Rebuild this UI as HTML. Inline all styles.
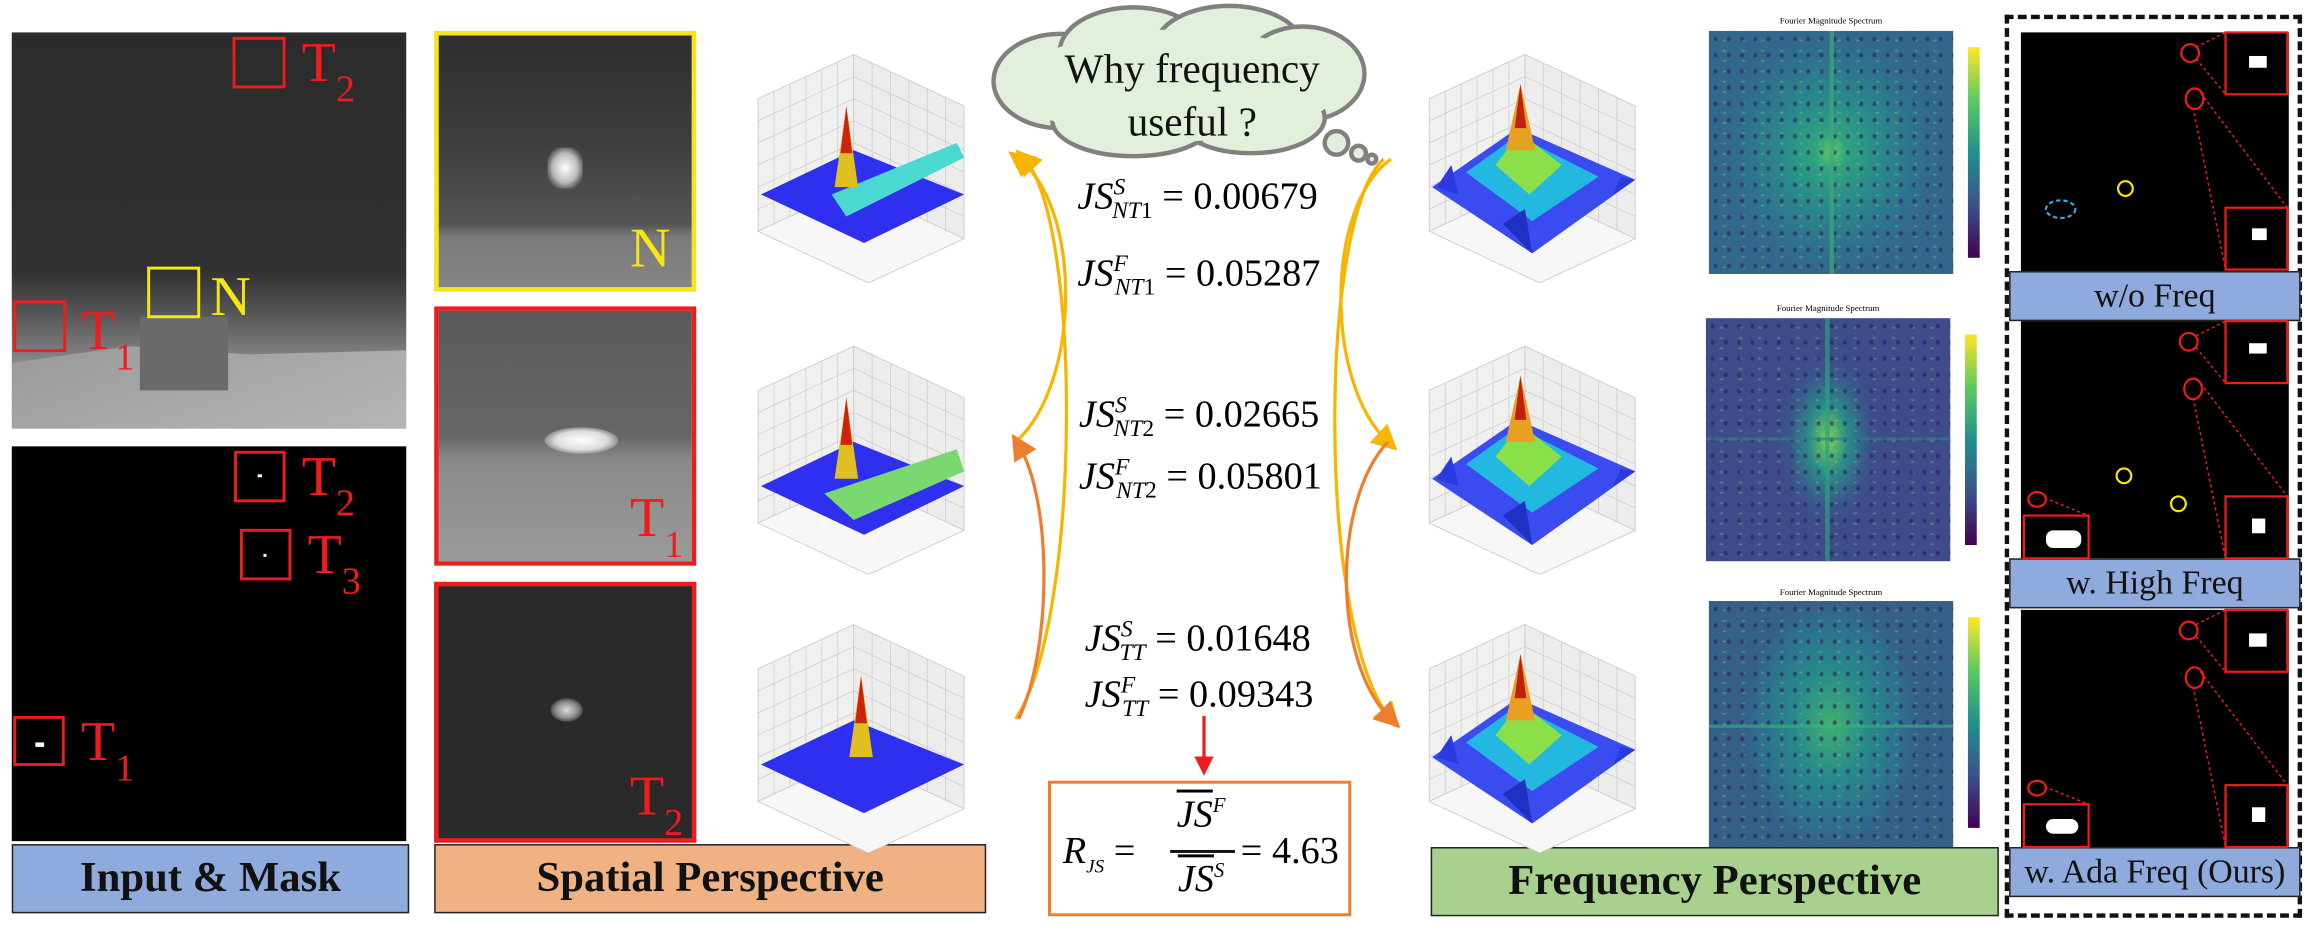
<!DOCTYPE html>
<html><head><meta charset="utf-8">
<style>
html,body{margin:0;padding:0;background:#fff;}
body{width:2308px;height:931px;overflow:hidden;position:relative;}
#stage{position:absolute;left:0;top:0;width:1568px;height:632px;transform:scale(1.4719,1.4731);transform-origin:0 0;font-family:"Liberation Serif",serif;}
.abs{position:absolute;}
.lbl{position:absolute;box-sizing:border-box;border:1.5px solid #222;display:flex;align-items:center;justify-content:center;font-weight:bold;font-size:29px;color:#111;font-family:"Liberation Serif",serif;}
.box{position:absolute;box-sizing:border-box;border:2.5px solid #ee1c1c;}
.rt{position:absolute;color:#ee1c1c;font-size:38px;line-height:1;font-family:"Liberation Serif",serif;}
.rt sub{font-size:26px;vertical-align:-14px;}
.eq{position:absolute;font-size:26px;line-height:1;white-space:nowrap;font-family:"Liberation Serif",serif;}
.eq i{font-style:italic;}
.spec{position:absolute;background:radial-gradient(ellipse 45% 50% at 50% 50%,#5ac864 0%,#2fa37f 15%,#2a8a8b 45%,#2f708e 80%,#33688d 100%);}
.cbar{position:absolute;width:8px;background:linear-gradient(#fde725,#5ec962,#21918c,#3b528b,#440154);}
.ftitle{position:absolute;font-size:6px;width:170px;text-align:center;font-family:"Liberation Serif",serif;}
.mask{position:absolute;background:#000;}
.mlbl{position:absolute;box-sizing:border-box;background:#8faadc;border:1.5px solid #222;font-size:23px;display:flex;align-items:center;justify-content:center;color:#111;font-family:"Liberation Serif",serif;}
.noise{position:absolute;background-image:radial-gradient(rgba(40,20,90,.55) 1px,transparent 1.6px),radial-gradient(rgba(120,210,120,.35) 1px,transparent 1.6px);background-size:9px 11px,13px 7px;background-position:0 0,4px 3px;}
</style></head><body>
<div id="stage">

<div class="abs" style="left:8px;top:22px;width:268px;height:269px;background:linear-gradient(180deg,#2b2b2b 0%,#303030 60%,#5a5a5a 72%,#8f8f8f 85%,#a8a8a8 100%);"></div>
<div class="abs" style="left:8px;top:235px;width:268px;height:56px;background:linear-gradient(160deg,#9a9a9a,#b5b5b5);clip-path:polygon(0 20%,30% 0,60% 10%,100% 5%,100% 100%,0 100%);"></div>
<div class="abs" style="left:95px;top:215px;width:60px;height:50px;background:#6a6a6a;"></div>
<div class="box" style="left:158px;top:25px;width:36px;height:35px;"></div>
<div class="rt" style="left:205px;top:24px;">T<sub>2</sub></div>
<div class="box" style="left:100px;top:181px;width:36px;height:35px;border-color:#f5e614;"></div>
<div class="rt" style="left:143px;top:183px;color:#f5e614;">N</div>
<div class="box" style="left:9px;top:204px;width:36px;height:35px;"></div>
<div class="rt" style="left:55px;top:206px;">T<sub>1</sub></div>

<div class="abs" style="left:8px;top:303px;width:268px;height:268px;background:#000;"></div>
<div class="box" style="left:159px;top:306px;width:35px;height:35px;"></div>
<div class="rt" style="left:205px;top:305px;">T<sub>2</sub></div>
<div class="box" style="left:163px;top:359px;width:35px;height:35px;"></div>
<div class="rt" style="left:209px;top:358px;">T<sub>3</sub></div>
<div class="box" style="left:9px;top:486px;width:35px;height:34px;"></div>
<div class="rt" style="left:55px;top:485px;">T<sub>1</sub></div>
<div class="abs" style="left:175px;top:322px;width:3px;height:2px;background:#fff"></div>
<div class="abs" style="left:179px;top:376px;width:2px;height:2px;background:#fff"></div>
<div class="abs" style="left:24px;top:504px;width:6px;height:3px;background:#fff"></div>
<div class="lbl" style="left:8px;top:573px;width:270px;height:47px;background:#8faadc;">Input &amp; Mask</div>

<div class="abs" style="left:295px;top:21px;width:178px;height:177px;box-sizing:border-box;border:3px solid #f5e614;background:linear-gradient(180deg,#2e2e2e 0%,#3c3c3c 40%,#555 75%,#7a7a7a 80%,#858585 100%);"></div>
<div class="abs" style="left:372px;top:100px;width:24px;height:28px;background:radial-gradient(#fff,#bbb 50%,transparent 80%)"></div>
<div class="rt" style="left:428px;top:150px;color:#f5e614;font-size:38px;">N</div>
<div class="abs" style="left:295px;top:208px;width:178px;height:176px;box-sizing:border-box;border:3px solid #ee1c1c;background:linear-gradient(180deg,#5a5a5a 0%,#666 50%,#8a8a8a 60%,#9a9a9a 100%);"></div>
<div class="abs" style="left:370px;top:290px;width:50px;height:18px;border-radius:50%;background:radial-gradient(#fff,#ddd 50%,transparent 80%)"></div>
<div class="rt" style="left:428px;top:333px;">T<sub>1</sub></div>
<div class="abs" style="left:295px;top:395px;width:178px;height:177px;box-sizing:border-box;border:3px solid #ee1c1c;background:#2a2a2a;"></div>
<div class="abs" style="left:374px;top:474px;width:22px;height:16px;border-radius:50%;background:radial-gradient(#ddd,#888 50%,transparent 80%)"></div>
<div class="rt" style="left:428px;top:522px;">T<sub>2</sub></div>
<div class="lbl" style="left:295px;top:573px;width:375px;height:47px;background:#f0b183;">Spatial Perspective</div>

<svg class="abs" style="left:660px;top:0px" width="290" height="115" viewBox="0 0 290 115">
<g fill="#e2efda" stroke="#808080" stroke-width="3">
<ellipse cx="60" cy="55" rx="45" ry="32"/><ellipse cx="110" cy="35" rx="50" ry="30"/><ellipse cx="175" cy="32" rx="50" ry="28"/><ellipse cx="225" cy="50" rx="42" ry="32"/><ellipse cx="190" cy="80" rx="50" ry="24"/><ellipse cx="110" cy="82" rx="55" ry="24"/>
</g>
<g fill="#e2efda"><ellipse cx="140" cy="58" rx="110" ry="38"/></g>
<g fill="#e2efda" stroke="#808080" stroke-width="3"><circle cx="248" cy="97" r="8"/><circle cx="263" cy="104" r="5"/><circle cx="272" cy="108" r="3"/></g>
<text x="150" y="56" text-anchor="middle" font-size="28" font-family="Liberation Serif" fill="#111">Why frequency</text>
<text x="150" y="92" text-anchor="middle" font-size="28" font-family="Liberation Serif" fill="#111">useful ?</text>
</svg>

<svg class="abs" style="left:0;top:0" width="1568" height="632">
<defs>
<marker id="ay" markerWidth="8" markerHeight="8" refX="4" refY="4" orient="auto"><path d="M0,0 L8,4 L0,8 Z" fill="#f7b500"/></marker>
<marker id="ao" markerWidth="8" markerHeight="8" refX="4" refY="4" orient="auto"><path d="M0,0 L8,4 L0,8 Z" fill="#ed7d31"/></marker>
<marker id="ar" markerWidth="6" markerHeight="6" refX="3" refY="3" orient="auto"><path d="M0,0 L6,3 L0,6 Z" fill="#ee1c1c"/></marker>
</defs>
<g fill="none" stroke-width="2.2">
<path d="M690,300 C735,260 735,140 692,108" stroke="#f7b500" marker-end="url(#ay)"/>
<path d="M690,488 C735,420 735,150 696,108" stroke="#f7b500" marker-end="url(#ay)"/>
<path d="M692,488 C715,440 715,340 692,302" stroke="#ed7d31" marker-end="url(#ao)"/>
<path d="M945,108 C900,140 900,260 943,300" stroke="#f7b500" marker-end="url(#ay)"/>
<path d="M940,108 C895,150 895,430 945,488" stroke="#f7b500" marker-end="url(#ay)"/>
<path d="M943,300 C905,340 905,450 945,488" stroke="#ed7d31" marker-end="url(#ao)"/>
<path d="M818,486 L818,520" stroke="#ee1c1c" marker-end="url(#ar)"/>
</g>
</svg>

<div class="eq" style="left:732px;top:120px;"><i>JS</i><sup style="font-size:16px;font-style:italic">S</sup><sub style="font-size:16px;font-style:italic;margin-left:-9px">NT</sub><sub style="font-size:16px">1</sub> = 0.00679</div>
<div class="eq" style="left:732px;top:172px;"><i>JS</i><sup style="font-size:16px;font-style:italic">F</sup><sub style="font-size:16px;font-style:italic;margin-left:-9px">NT</sub><sub style="font-size:16px">1</sub> = 0.05287</div>
<div class="eq" style="left:733px;top:268px;"><i>JS</i><sup style="font-size:16px;font-style:italic">S</sup><sub style="font-size:16px;font-style:italic;margin-left:-9px">NT</sub><sub style="font-size:16px">2</sub> = 0.02665</div>
<div class="eq" style="left:733px;top:310px;"><i>JS</i><sup style="font-size:16px;font-style:italic">F</sup><sub style="font-size:16px;font-style:italic;margin-left:-9px">NT</sub><sub style="font-size:16px">2</sub> = 0.05801</div>
<div class="eq" style="left:737px;top:420px;"><i>JS</i><sup style="font-size:16px;font-style:italic">S</sup><sub style="font-size:16px;font-style:italic;margin-left:-9px">TT</sub> = 0.01648</div>
<div class="eq" style="left:737px;top:458px;"><i>JS</i><sup style="font-size:16px;font-style:italic">F</sup><sub style="font-size:16px;font-style:italic;margin-left:-9px">TT</sub> = 0.09343</div>

<div class="abs" style="left:712px;top:530px;width:206px;height:92px;box-sizing:border-box;border:2.5px solid #ed7d31;"></div>
<div class="eq" style="left:722px;top:565px;"><i>R</i><sub style="font-size:13px;font-style:italic">JS</sub> =</div>
<div class="abs" style="left:795px;top:538px;width:42px;text-align:center;font-size:26px;"><span style="text-decoration:overline;font-style:italic">JS</span><sup style="font-size:14px;font-style:italic">F</sup></div>
<div class="abs" style="left:795px;top:577px;width:44px;height:1.5px;background:#111"></div>
<div class="abs" style="left:795px;top:582px;width:42px;text-align:center;font-size:26px;"><span style="text-decoration:overline;font-style:italic">JS</span><sup style="font-size:14px;font-style:italic">S</sup></div>
<div class="eq" style="left:843px;top:565px;">= 4.63</div>

<div class="lbl" style="left:972px;top:575px;width:386px;height:47px;background:#a9d18e;">Frequency Perspective</div>

<div class="ftitle" style="left:1159px;top:12px">Fourier Magnitude Spectrum</div>
<div class="spec" style="left:1161px;top:21px;width:166px;height:165px;"></div>
<div class="noise" style="left:1161px;top:21px;width:166px;height:165px;"></div>
<div class="abs" style="left:1243px;top:21px;width:3px;height:165px;background:#3ea67a;opacity:.7"></div>
<div class="cbar" style="left:1337px;top:32px;height:143px;"></div>
<div class="ftitle" style="left:1157px;top:207px">Fourier Magnitude Spectrum</div>
<div class="spec" style="left:1159px;top:216px;width:166px;height:165px;background:radial-gradient(ellipse 20% 35% at 50% 50%,#7ad151 0%,#2a8d88 40%,#3a568b 80%,#3e4d8a 100%);"></div>
<div class="noise" style="left:1159px;top:216px;width:166px;height:165px;"></div>
<div class="abs" style="left:1240px;top:216px;width:3px;height:165px;background:#2fa07f;opacity:.7"></div>
<div class="abs" style="left:1159px;top:297px;width:166px;height:2px;background:#2f7f8e;opacity:.7"></div>
<div class="cbar" style="left:1335px;top:227px;height:143px;"></div>
<div class="ftitle" style="left:1159px;top:400px">Fourier Magnitude Spectrum</div>
<div class="spec" style="left:1161px;top:408px;width:166px;height:167px;background:radial-gradient(ellipse 35% 50% at 50% 50%,#3fb070 0%,#27898c 45%,#2f6e8e 85%,#356189 100%);"></div>
<div class="noise" style="left:1161px;top:408px;width:166px;height:167px;"></div>
<div class="abs" style="left:1161px;top:492px;width:166px;height:2px;background:#35b779;opacity:.6"></div>
<div class="cbar" style="left:1337px;top:419px;height:143px;"></div>

<div class="abs" style="left:1362px;top:10px;width:202px;height:613px;box-sizing:border-box;border:3px dashed #111;"></div>
<div class="mask" style="left:1373px;top:22px;width:182px;height:162px;"></div>
<div class="mlbl" style="left:1365px;top:184px;width:198px;height:34px;">w/o Freq</div>
<div class="mask" style="left:1373px;top:218px;width:182px;height:161px;"></div>
<div class="mlbl" style="left:1365px;top:379px;width:198px;height:34px;">w. High Freq</div>
<div class="mask" style="left:1373px;top:414px;width:182px;height:161px;"></div>
<div class="mlbl" style="left:1365px;top:575px;width:198px;height:34px;">w. Ada Freq (Ours)</div>
<svg class="abs" style="left:0;top:0" width="1568" height="632">
<g fill="none" stroke="#ee1c1c" stroke-width="1.5">
<rect x="1512" y="22" width="42" height="42"/><rect x="1512" y="141" width="42" height="42"/>
<ellipse cx="1488" cy="36" rx="6" ry="6"/><ellipse cx="1491" cy="67" rx="6" ry="7"/>
<rect x="1512" y="218" width="42" height="42"/><rect x="1512" y="337" width="42" height="42"/><rect x="1375" y="350" width="44" height="29"/>
<ellipse cx="1487" cy="232" rx="6" ry="6"/><ellipse cx="1490" cy="264" rx="6" ry="7"/><ellipse cx="1384" cy="339" rx="6" ry="5"/>
<rect x="1512" y="414" width="42" height="42"/><rect x="1512" y="533" width="42" height="42"/><rect x="1375" y="546" width="44" height="29"/>
<ellipse cx="1487" cy="428" rx="6" ry="6"/><ellipse cx="1491" cy="460" rx="6" ry="7"/><ellipse cx="1384" cy="535" rx="6" ry="5"/>
</g>
<g stroke="#ee1c1c" stroke-width="1" stroke-dasharray="2,2">
<line x1="1492" y1="32" x2="1512" y2="22"/><line x1="1492" y1="40" x2="1512" y2="64"/><line x1="1490" y1="73" x2="1512" y2="183"/><line x1="1495" y1="63" x2="1554" y2="141"/>
<line x1="1492" y1="228" x2="1512" y2="218"/><line x1="1492" y1="236" x2="1512" y2="260"/><line x1="1490" y1="270" x2="1512" y2="379"/><line x1="1495" y1="260" x2="1554" y2="337"/>
<line x1="1492" y1="424" x2="1512" y2="414"/><line x1="1492" y1="432" x2="1512" y2="456"/><line x1="1490" y1="466" x2="1512" y2="575"/><line x1="1495" y1="456" x2="1554" y2="533"/>
<line x1="1389" y1="338" x2="1419" y2="350"/><line x1="1389" y1="534" x2="1419" y2="546"/>
</g>
<g fill="none" stroke="#f5e614" stroke-width="1.5"><circle cx="1444" cy="128" r="5"/><circle cx="1443" cy="323" r="5"/><circle cx="1480" cy="342" r="5"/></g>
<ellipse cx="1400" cy="142" rx="10" ry="6" fill="none" stroke="#3ba3e0" stroke-width="1.5" stroke-dasharray="3,2"/>
<g fill="#fff"><rect x="1528" y="38" width="12" height="8"/><rect x="1530" y="155" width="10" height="8"/><rect x="1528" y="233" width="12" height="7"/><rect x="1530" y="352" width="9" height="10"/><rect x="1390" y="360" width="24" height="12" rx="5"/><rect x="1528" y="430" width="12" height="9"/><rect x="1530" y="548" width="9" height="10"/><rect x="1390" y="556" width="22" height="10" rx="5"/></g>
</svg>

<div id="plots"></div>
</div>
<script>
const plotPos=[[505,32],[505,230],[505,419],[961,32],[961,230],[961,419]];
const plotNames=['spatial-3d-n','spatial-3d-t1','spatial-3d-t2','freq-3d-n','freq-3d-t1','freq-3d-t2'];
const host=document.getElementById('plots');
function plot(i){
  const [x,y]=plotPos[i];
  const freq=i>=3;
  let g='';
  g+='<polygon points="10,35 75,5 75,95 10,125" fill="#f0f0f0" stroke="#ccc" stroke-width="0.6"/>';
  g+='<polygon points="75,5 150,40 150,130 75,95" fill="#ececec" stroke="#ccc" stroke-width="0.6"/>';
  for(let k=1;k<6;k++){const t=k/6;g+=`<line x1="${10+65*t}" y1="${35-30*t}" x2="${10+65*t}" y2="${125-30*t}" stroke="#ccc" stroke-width="0.5"/>`;g+=`<line x1="${75+75*t}" y1="${5+35*t}" x2="${75+75*t}" y2="${95+35*t}" stroke="#ccc" stroke-width="0.5"/>`;g+=`<line x1="10" y1="${35+90*t}" x2="75" y2="${5+90*t}" stroke="#ccc" stroke-width="0.5"/>`;g+=`<line x1="75" y1="${5+90*t}" x2="150" y2="${40+90*t}" stroke="#ccc" stroke-width="0.5"/>`;}
  g+='<polygon points="10,125 75,95 150,130 85,160" fill="#f7f7f7" stroke="#ccc" stroke-width="0.6"/>';
  if(freq){
    g+='<polygon points="12,95 70,55 150,90 80,140" fill="#3a4cf0"/>';
    g+='<polygon points="35,85 70,60 125,88 80,118" fill="#22b8e0"/>';
    g+='<polygon points="55,80 72,58 100,80 78,100" fill="#8be04a"/>';
    g+='<polygon points="62,70 72,25 82,70" fill="#e8a020"/><polygon points="68,55 72,25 76,55" fill="#c02010"/>';
    g+='<polygon points="60,120 80,140 75,110" fill="#2030c0"/><polygon points="15,95 25,80 30,100" fill="#2a3ae0"/><polygon points="140,88 150,90 135,100" fill="#2a3ae0"/>';
  } else {
    g+='<polygon points="12,100 75,70 150,100 82,133" fill="#2f2ff0"/>';
    if(i===0){g+='<polygon points="60,100 145,65 150,75 70,115" fill="#4ad8d0"/>';}
    if(i===1){g+='<polygon points="55,105 145,75 150,90 75,123" fill="#7ad870"/>';}
    const px=i===2?80:70;
    g+=`<polygon points="${px-8},95 ${px},40 ${px+8},95" fill="#e0c020"/><polygon points="${px-4},72 ${px},40 ${px+4},72" fill="#d02010"/>`;
  }
  const d=document.createElement('div');
  d.className='abs';d.style.left=x+'px';d.style.top=y+'px';
  
  
  d.innerHTML='<svg width="160" height="160" viewBox="0 0 160 160">'+g+'</svg>';
  host.appendChild(d);
}
for(let i=0;i<6;i++)plot(i);
</script>
</body></html>
